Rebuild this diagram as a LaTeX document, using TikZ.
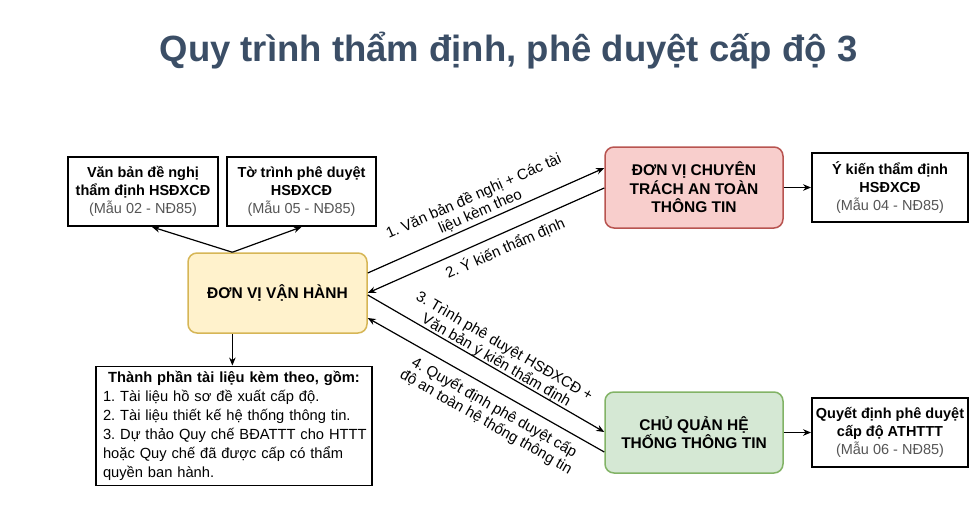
\documentclass[tikz,border=0pt]{standalone}
\usepackage{fontspec}
\setmainfont{Liberation Sans}
\usetikzlibrary{arrows.meta,calc}
\definecolor{titlec}{RGB}{59,78,102}
\definecolor{yfill}{HTML}{FFF2CC}
\definecolor{ydraw}{HTML}{D6B656}
\definecolor{rfill}{HTML}{F8CECC}
\definecolor{rdraw}{HTML}{B85450}
\definecolor{gfill}{HTML}{D5E8D4}
\definecolor{gdraw}{HTML}{82B366}
\definecolor{subc}{HTML}{555555}
\frenchspacing
\begin{document}
\begin{tikzpicture}[x=1pt,y=-1pt,
  plain/.style={draw=black,line width=1.9pt,fill=white,inner sep=0pt,align=center,font=\fontsize{14.5}{18}\selectfont},
  unit/.style={rounded corners=9pt,line width=1.5pt,inner sep=0pt,align=center,font=\bfseries\fontsize{15.5}{18.5}\selectfont,minimum width=178pt,minimum height=81pt},
  conn/.style={line width=1.2pt,-{Stealth[length=8pt,width=6.5pt]}},
  lbl/.style={font=\fontsize{15}{16.5}\selectfont,align=center,inner sep=0pt}]
\useasboundingbox (0,0) rectangle (979,516);

\node[font=\bfseries\fontsize{36.5}{40}\selectfont,text=titlec,anchor=base] (title) at (508.5,62) {Quy trình thẩm định, phê duyệt cấp độ 3};

\node[plain,minimum width=150pt,minimum height=69pt] (A) at (143,191.5)
  {\textbf{Văn bản đề nghị}\\\textbf{thẩm định HSĐXCĐ}\\\textcolor{subc}{(Mẫu 02 - NĐ85)}};
\node[plain,minimum width=149pt,minimum height=69pt] (B) at (301.5,191.5)
  {\textbf{Tờ trình phê duyệt}\\\textbf{HSĐXCĐ}\\\textcolor{subc}{(Mẫu 05 - NĐ85)}};

\node[unit,draw=ydraw,fill=yfill,minimum width=179pt,minimum height=80pt] (VH) at (277.5,293) {ĐƠN VỊ VẬN HÀNH};

\node[plain,minimum width=276pt,minimum height=119pt,text width=262pt,align=left,font=\fontsize{14.7}{19}\selectfont] (T) at (234,426)
  {\makebox[262pt][c]{\textbf{Thành phần tài liệu kèm theo, gồm:}}\\
   1. Tài liệu hồ sơ đề xuất cấp độ.\\
   2. Tài liệu thiết kế hệ thống thông tin.\\
   \makebox[262pt][s]{3. Dự thảo Quy chế BĐATTT cho HTTT}\\
   \makebox[262pt][s]{hoặc Quy chế đã được cấp có thẩm}\\
   quyền ban hành.};

\node[unit,draw=rdraw,fill=rfill] (R) at (694,187.5) {ĐƠN VỊ CHUYÊN\\TRÁCH AN TOÀN\\THÔNG TIN};
\node[unit,draw=gdraw,fill=gfill] (G) at (694,432.5) {CHỦ QUẢN HỆ\\THỐNG THÔNG TIN};

\node[plain,minimum width=156pt,minimum height=69pt] (Y) at (890,187.5)
  {\textbf{Ý kiến thẩm định}\\\textbf{HSĐXCĐ}\\\textcolor{subc}{(Mẫu 04 - NĐ85)}};
\node[plain,minimum width=156pt,minimum height=69pt] (Q) at (890,432.5)
  {\textbf{Quyết định phê duyệt}\\\textbf{cấp độ ATHTTT}\\\textcolor{subc}{(Mẫu 06 - NĐ85)}};

\coordinate (VHt) at ($(VH.north west)!0.25!(VH.north east)$);
\draw[conn] (VHt) -- ($(A.south)+(9,0)$);
\draw[conn] (VHt) -- (B.south);
\draw[conn] (VHt |- VH.south) -- (VHt |- T.north);

\draw[conn] ($(VH.east)+(0,-20)$) -- ($(R.west)+(0,-19.5)$);
\draw[conn] ($(R.west)+(0,0.5)$) -- (VH.east);
\draw[conn] ($(VH.east)+(0,2)$) -- ($(G.west)+(0,-0.5)$);
\draw[conn] ($(G.west)+(0,19.5)$) -- ($(VH.east)+(0,25)$);

\draw[conn] (R.east) -- (Y.west);
\draw[conn] (G.east) -- (Q.west);

\node[lbl,rotate=23.8] (l1) at (477,204) {1. Văn bản đề nghị + Các tài\\liệu kèm theo};
\node[lbl,rotate=23.8] (l2) at (505,248) {2. Ý kiến thẩm định};
\node[lbl,rotate=-30.2] (l3) at (500,354) {3. Trình phê duyệt HSĐXCĐ +\\Văn bản ý kiến thẩm định};
\node[lbl,rotate=-29.7] (l4) at (490,415) {4. Quyết định phê duyệt cấp\\độ an toàn hệ thống thông tin};
\end{tikzpicture}
\end{document}
